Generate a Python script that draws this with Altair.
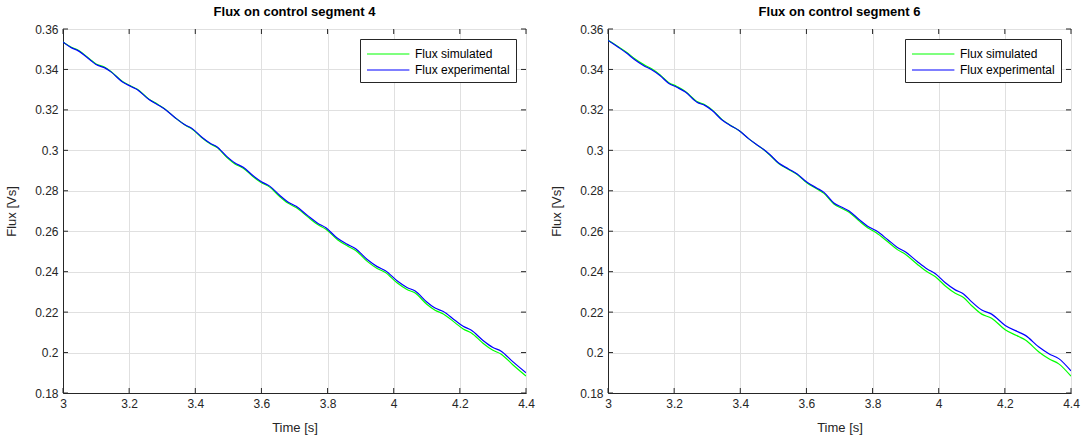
import altair as alt
import pandas as pd

TITLE_LEFT = "Flux on control segment 4"
TITLE_RIGHT = "Flux on control segment 6"
SERIES = ["Flux simulated", "Flux experimental"]
COLORS = ["#00ff00", "#0000ff"]
X_TITLE = "Time [s]"
Y_TITLE = "Flux [Vs]"
X_TICKS = [3.0, 3.2, 3.4, 3.6, 3.8, 4.0, 4.2, 4.4]
Y_TICKS = [0.18, 0.20, 0.22, 0.24, 0.26, 0.28, 0.30, 0.32, 0.34, 0.36]

# ---- segment 4 (left) ----
left_t = [3.000, 3.025, 3.045, 3.085, 3.100, 3.125, 3.145, 3.180, 3.205, 3.225,
          3.260, 3.285, 3.305, 3.340, 3.370, 3.390, 3.420, 3.445, 3.465, 3.495,
          3.520, 3.545, 3.575, 3.600, 3.625, 3.655, 3.680, 3.705, 3.740, 3.770,
          3.795, 3.830, 3.860, 3.885, 3.920, 3.950, 3.975, 4.010, 4.040, 4.065,
          4.100, 4.125, 4.150, 4.185, 4.210, 4.235, 4.270, 4.300, 4.325, 4.360,
          4.400]
left_exp = [0.3536, 0.3508, 0.3493, 0.3443, 0.3424, 0.3409, 0.3388, 0.3338, 0.3316, 0.3300,
            0.3251, 0.3227, 0.3207, 0.3160, 0.3125, 0.3108, 0.3065, 0.3035, 0.3018, 0.2970,
            0.2937, 0.2916, 0.2874, 0.2845, 0.2823, 0.2778, 0.2745, 0.2723, 0.2677, 0.2640,
            0.2617, 0.2565, 0.2535, 0.2513, 0.2460, 0.2425, 0.2405, 0.2355, 0.2322, 0.2304,
            0.2250, 0.2220, 0.2203, 0.2160, 0.2130, 0.2110, 0.2060, 0.2025, 0.2007, 0.1955,
            0.1900]
left_sim = [0.3536, 0.3510, 0.3496, 0.3446, 0.3427, 0.3412, 0.3390, 0.3340, 0.3318, 0.3302,
            0.3253, 0.3229, 0.3208, 0.3160, 0.3124, 0.3106, 0.3062, 0.3032, 0.3015, 0.2966,
            0.2933, 0.2912, 0.2869, 0.2840, 0.2818, 0.2772, 0.2739, 0.2717, 0.2671, 0.2633,
            0.2610, 0.2558, 0.2527, 0.2505, 0.2451, 0.2416, 0.2396, 0.2345, 0.2312, 0.2294,
            0.2239, 0.2209, 0.2191, 0.2148, 0.2117, 0.2097, 0.2046, 0.2011, 0.1992, 0.1940,
            0.1884]

# ---- segment 6 (right) ----
right_t = [3.000, 3.030, 3.056, 3.081, 3.107, 3.132, 3.157, 3.183, 3.208, 3.234,
           3.269, 3.294, 3.315, 3.345, 3.371, 3.396, 3.425, 3.450, 3.470, 3.490,
           3.516, 3.546, 3.572, 3.602, 3.632, 3.653, 3.683, 3.709, 3.729, 3.759,
           3.785, 3.810, 3.846, 3.875, 3.900, 3.935, 3.965, 3.990, 4.020, 4.050,
           4.075, 4.099, 4.130, 4.160, 4.201, 4.242, 4.262, 4.303, 4.333, 4.363,
           4.400]
right_exp = [0.3544, 0.3511, 0.3481, 0.3448, 0.3420, 0.3398, 0.3370, 0.3332, 0.3312, 0.3288,
             0.3238, 0.3221, 0.3197, 0.3150, 0.3122, 0.3098, 0.3058, 0.3028, 0.3005, 0.2978,
             0.2937, 0.2908, 0.2883, 0.2842, 0.2813, 0.2792, 0.2740, 0.2717, 0.2700, 0.2658,
             0.2625, 0.2603, 0.2558, 0.2520, 0.2497, 0.2450, 0.2413, 0.2390, 0.2345, 0.2310,
             0.2290, 0.2252, 0.2210, 0.2190, 0.2134, 0.2101, 0.2085, 0.2027, 0.1994, 0.1970,
             0.1909]
right_sim = [0.3544, 0.3514, 0.3485, 0.3453, 0.3425, 0.3403, 0.3374, 0.3336, 0.3316, 0.3291,
             0.3241, 0.3224, 0.3200, 0.3152, 0.3123, 0.3098, 0.3058, 0.3027, 0.3004, 0.2976,
             0.2935, 0.2905, 0.2880, 0.2838, 0.2809, 0.2787, 0.2735, 0.2711, 0.2694, 0.2651,
             0.2617, 0.2594, 0.2548, 0.2509, 0.2485, 0.2437, 0.2399, 0.2375, 0.2329, 0.2293,
             0.2272, 0.2233, 0.2190, 0.2170, 0.2113, 0.2079, 0.2062, 0.2003, 0.1969, 0.1944,
             0.1883]

W, H = 463, 364
TICK = 5
AX = "#262626"
GRID = "#e0e0e0"
FONT = "Liberation Sans"


def panel(t, sim, exp, title):
    df = pd.DataFrame({
        "t": list(t) + list(t),
        "v": list(sim) + list(exp),
        "series": [SERIES[0]] * len(t) + [SERIES[1]] * len(t),
    })
    xs = alt.Scale(domain=[X_TICKS[0], X_TICKS[-1]], nice=False, zero=False)
    ys = alt.Scale(domain=[Y_TICKS[0], Y_TICKS[-1]], nice=False, zero=False)
    base = alt.Chart(df)

    xaxis = alt.Axis(
        values=X_TICKS, format="~g", title=X_TITLE, grid=True, gridColor=GRID,
        ticks=False, domainColor=AX, labelColor=AX, titleColor=AX,
        labelFontSize=12, titleFontSize=13, labelPadding=5, titlePadding=12,
        titleFontWeight="normal", labelFlush=False)
    yaxis = alt.Axis(
        values=Y_TICKS, format="~g", title=Y_TITLE, grid=True, gridColor=GRID,
        ticks=False, domainColor=AX, labelColor=AX, titleColor=AX,
        labelFontSize=12, titleFontSize=13, labelPadding=5, titlePadding=16,
        titleFontWeight="normal", labelFlush=False)
    color = alt.Color("series:N", scale=alt.Scale(domain=SERIES, range=COLORS),
                      legend=alt.Legend(
                          orient="top-right", offset=10, title=None,
                          strokeColor=AX, fillColor="white", padding=6,
                          symbolType="M-1,0L4.3,0", symbolSize=256, symbolStrokeWidth=1.2,
                          labelFontSize=12, labelColor="#000000", rowPadding=1,
                          cornerRadius=0, labelOffset=31))

    line = dict(strokeWidth=1.2, interpolate="monotone", clip=True)
    green = base.transform_filter(alt.datum.series == SERIES[0]).mark_line(**line).encode(
        x=alt.X("t:Q", scale=xs, axis=xaxis), y=alt.Y("v:Q", scale=ys, axis=yaxis), color=color)
    blue = base.transform_filter(alt.datum.series == SERIES[1]).mark_line(**line).encode(
        x=alt.X("t:Q", scale=xs, axis=xaxis), y=alt.Y("v:Q", scale=ys, axis=yaxis), color=color)

    xt = alt.Chart(pd.DataFrame({"tick": X_TICKS}))
    yt = alt.Chart(pd.DataFrame({"tick": Y_TICKS}))
    rule = dict(color=AX, strokeWidth=1)
    xtick_bottom = xt.mark_rule(**rule).encode(
        x=alt.X("tick:Q", scale=xs, axis=xaxis), y=alt.value(H), y2=alt.value(H - TICK))
    xtick_top = xt.mark_rule(**rule).encode(
        x=alt.X("tick:Q", scale=xs, axis=xaxis), y=alt.value(0), y2=alt.value(TICK))
    ytick_left = yt.mark_rule(**rule).encode(
        y=alt.Y("tick:Q", scale=ys, axis=yaxis), x=alt.value(0), x2=alt.value(TICK))
    ytick_right = yt.mark_rule(**rule).encode(
        y=alt.Y("tick:Q", scale=ys, axis=yaxis), x=alt.value(W), x2=alt.value(W - TICK))

    return alt.layer(green, blue, xtick_bottom, xtick_top, ytick_left, ytick_right).properties(
        width=W, height=H,
        title=alt.TitleParams(title, fontSize=13, fontWeight="bold", color="#000000", offset=4))


left = panel(left_t, left_sim, left_exp, TITLE_LEFT)
right = panel(right_t, right_sim, right_exp, TITLE_RIGHT)

chart = alt.hconcat(left, right, spacing=82, bounds="flush").resolve_legend(
    color="independent"
).properties(
    padding={"left": 5, "top": 5, "right": 5, "bottom": 5}
).configure(font=FONT).configure_view(stroke=AX, strokeWidth=1)

chart.save("out.html", embed_options={"renderer": "svg", "actions": False})
